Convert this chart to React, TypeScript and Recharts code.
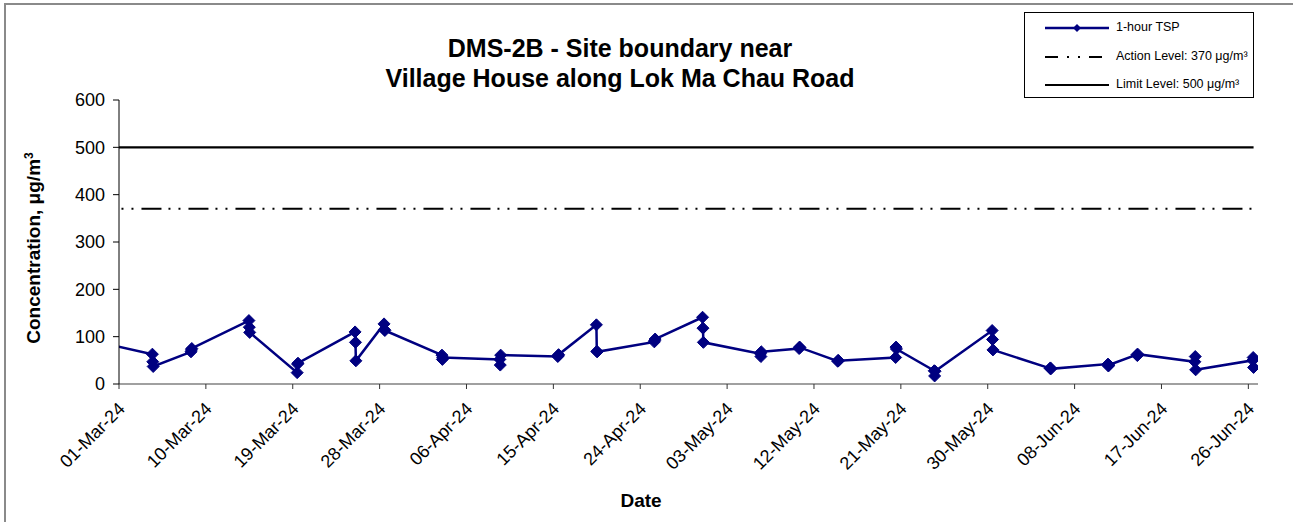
import React from 'react';
import { LineChart, Line, XAxis, YAxis } from 'recharts';

// ---- data ----
const sampleDates = [
  '2024-02-27', '2024-03-04', '2024-03-08', '2024-03-14', '2024-03-19', '2024-03-25',
  '2024-03-28', '2024-04-03', '2024-04-09', '2024-04-15', '2024-04-19', '2024-04-25',
  '2024-04-30', '2024-05-06', '2024-05-10', '2024-05-14', '2024-05-20', '2024-05-24',
  '2024-05-30', '2024-06-05', '2024-06-11', '2024-06-14', '2024-06-20', '2024-06-26',
];
const sampleHours = [11, 12, 13];
const tspValues = [
  [84, 87, 90], [63, 47, 37], [68, 72, 75], [134, 120, 109], [24, 42, 44], [110, 88, 49],
  [127, 115, 113], [61, 52, 56], [52, 40, 61], [58, 60, 62], [125, 69, 68], [89, 92, 95],
  [141, 118, 88], [64, 58, 68], [75, 78, 77], [48, 50, 49], [56, 78, 74], [28, 17, 27],
  [113, 94, 72], [33, 34, 32], [42, 38, 40], [62, 60, 63], [47, 58, 30], [50, 56, 35],
];
const actionLevel = 370;
const limitLevel = 500;
const yTicks = [0, 100, 200, 300, 400, 500, 600];
const xTickDates = [
  '2024-03-01', '2024-03-10', '2024-03-19', '2024-03-28', '2024-04-06', '2024-04-15',
  '2024-04-24', '2024-05-03', '2024-05-12', '2024-05-21', '2024-05-30', '2024-06-08',
  '2024-06-17', '2024-06-26',
];
const axisStart = '2024-03-01';
const axisEnd = '2024-06-27';
const monthNames = ['Jan', 'Feb', 'Mar', 'Apr', 'May', 'Jun', 'Jul', 'Aug', 'Sep', 'Oct', 'Nov', 'Dec'];

// ---- helpers ----
const base = Date.parse(axisStart + 'T00:00:00Z');
const toDay = (iso: string) => (Date.parse(iso + 'T00:00:00Z') - base) / 86400000;
const fmtDay = (d: number) => {
  const dt = new Date(base + Math.round(d) * 86400000);
  const dd = String(dt.getUTCDate()).padStart(2, '0');
  return `${dd}-${monthNames[dt.getUTCMonth()]}-${String(dt.getUTCFullYear()).slice(2)}`;
};

const tspData = sampleDates.flatMap((d, i) =>
  tspValues[i].map((v, j) => ({ x: toDay(d) + sampleHours[j] / 24, y: v }))
);
const firstX = tspData[0].x;
const lastX = tspData[tspData.length - 1].x;
const actionData = [{ x: firstX, y: actionLevel }, { x: lastX, y: actionLevel }];
const limitData = [{ x: firstX, y: limitLevel }, { x: lastX, y: limitLevel }];
const xTicks = xTickDates.map(toDay);

const FONT = '"Liberation Sans", Arial, sans-serif';
const NAVY = '#000080';

const Diamond = (props: any) => {
  const { cx, cy, index } = props;
  if (cx == null || cy == null) return <g key={index} />;
  const r = 6;
  return (
    <path
      key={index}
      d={`M${cx},${cy - r} L${cx + r},${cy} L${cx},${cy + r} L${cx - r},${cy} Z`}
      fill={NAVY}
      stroke={NAVY}
      strokeWidth={1}
    />
  );
};

const XTick = (props: any) => {
  const { x, y, payload } = props;
  const ax = x + 7;
  const ay = y + 19;
  return (
    <text
      x={ax}
      y={ay}
      textAnchor="end"
      transform={`rotate(-45, ${ax}, ${ay})`}
      fontSize={18}
      fontFamily={FONT}
      fill="#000"
    >
      {fmtDay(payload.value)}
    </text>
  );
};

const YTitle = () => (
  <text
    x={40}
    y={248}
    textAnchor="middle"
    transform="rotate(-90, 40, 248)"
    fontSize={19}
    fontWeight="bold"
    fontFamily={FONT}
    fill="#000"
  >
    Concentration, μg/m
    <tspan dy={-7} fontSize={12}>3</tspan>
  </text>
);

const XTitle = () => (
  <text x={641} y={507} textAnchor="middle" fontSize={19} fontWeight="bold" fontFamily={FONT} fill="#000">
    Date
  </text>
);

export default function App() {
  return (
    <div style={{ position: 'absolute', left: 0, top: 0, width: 1293, height: 522, background: '#fff', overflow: 'hidden', fontFamily: FONT }}>
      <div style={{ position: 'absolute', left: 4, top: 3, width: 1400, height: 600, borderLeft: '2px solid #8a8a8a', borderTop: '2px solid #8a8a8a' }} />
      <div style={{ position: 'absolute', left: 0, top: 0 }}>
        <LineChart width={1293} height={522} margin={{ top: 100, right: 35, bottom: 0, left: 0 }}>
          <XAxis
            type="number"
            dataKey="x"
            domain={[0, toDay(axisEnd)]}
            ticks={xTicks}
            allowDataOverflow
            interval={0}
            height={138}
            tickSize={5}
            axisLine={{ stroke: '#808080', strokeWidth: 1.5 }}
            tickLine={{ stroke: '#333', strokeWidth: 1 }}
            tick={<XTick />}
            label={<XTitle />}
          />
          <YAxis
            type="number"
            dataKey="y"
            domain={[0, 600]}
            ticks={yTicks}
            width={119}
            tickSize={6}
            tickMargin={8}
            axisLine={{ stroke: '#000', strokeWidth: 1 }}
            tickLine={{ stroke: '#000', strokeWidth: 1 }}
            tick={{ fontSize: 18, fontFamily: FONT, fill: '#000' }}
            label={<YTitle />}
          />
          <Line
            data={limitData}
            dataKey="y"
            type="linear"
            stroke="#000"
            strokeWidth={2.2}
            dot={false}
            activeDot={false}
            isAnimationActive={false}
          />
          <Line
            data={actionData}
            dataKey="y"
            type="linear"
            stroke="#000"
            strokeWidth={2}
            strokeDasharray="20 7 2 8 2 8"
            dot={false}
            activeDot={false}
            isAnimationActive={false}
          />
          <Line
            data={tspData}
            dataKey="y"
            type="linear"
            stroke={NAVY}
            strokeWidth={2.5}
            dot={<Diamond />}
            activeDot={false}
            isAnimationActive={false}
          />
        </LineChart>
      </div>
      <div
        style={{
          position: 'absolute',
          left: 620 - 300,
          top: 33,
          width: 600,
          textAlign: 'center',
          fontWeight: 'bold',
          fontSize: 25,
          lineHeight: '30px',
          color: '#000',
        }}
      >
        <div>DMS-2B - Site boundary near</div>
        <div>Village House along Lok Ma Chau Road</div>
      </div>
      <div
        style={{
          position: 'absolute',
          left: 1024,
          top: 12,
          width: 228,
          height: 84,
          border: '1px solid #000',
          background: '#fff',
          fontSize: 12.5,
          color: '#000',
        }}
      >
        {[
          { label: '1-hour TSP', color: NAVY, dash: undefined as string | undefined, marker: true, w: 2.5 },
          { label: 'Action Level: 370 μg/m³', color: '#000', dash: '13 9 2 9 2 9', marker: false, w: 2 },
          { label: 'Limit Level: 500 μg/m³', color: '#000', dash: undefined, marker: false, w: 2 },
        ].map((it, i) => (
          <div key={i} style={{ position: 'absolute', left: 0, top: 4 + i * 28.5, height: 22, width: 228 }}>
            <svg width={72} height={22} style={{ position: 'absolute', left: 18, top: 0 }}>
              <line x1={2} y1={11} x2={66} y2={11} stroke={it.color} strokeWidth={it.w} strokeDasharray={it.dash} />
              {it.marker && <path d="M34,7 L38,11 L34,15 L30,11 Z" fill={NAVY} />}
            </svg>
            <span style={{ position: 'absolute', left: 91, top: 3, whiteSpace: 'nowrap' }}>{it.label}</span>
          </div>
        ))}
      </div>
    </div>
  );
}
